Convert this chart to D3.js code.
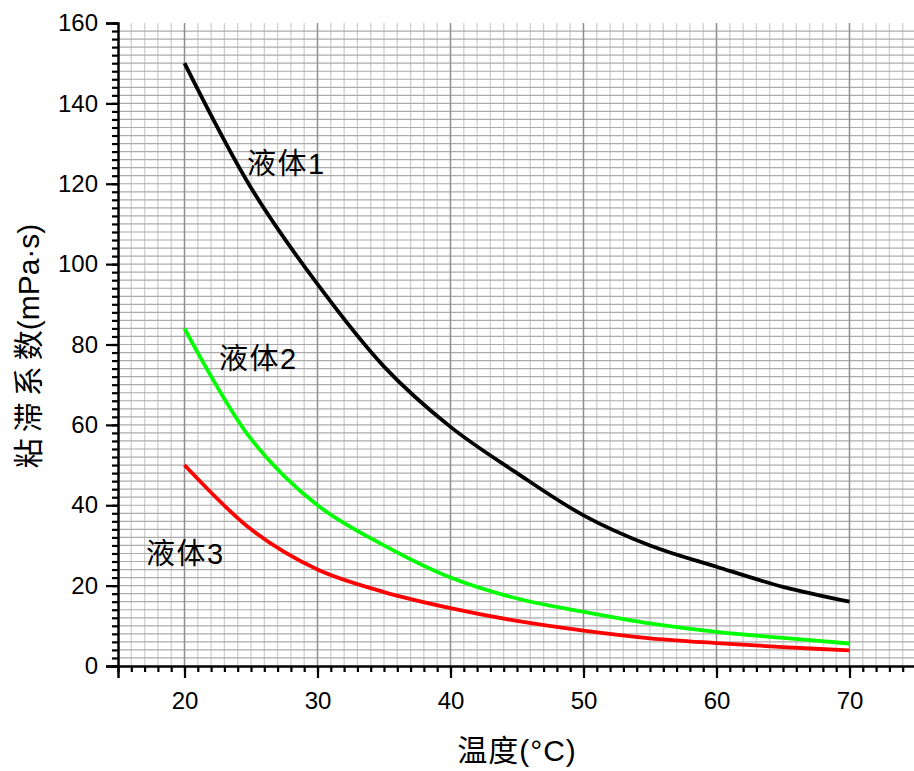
<!DOCTYPE html>
<html>
<head>
<meta charset="utf-8">
<script src="https://cdn.jsdelivr.net/npm/d3@7"></script>
<style>
  body { margin: 0; background: #fff; }
  svg { display: block; }
  text { font-family: "Liberation Sans", Arial, "Noto Sans CJK SC", sans-serif; }
</style>
</head>
<body>
<div class="chart"></div>
<script>
const temps = [20, 25, 30, 35, 40, 45, 50, 55, 60, 65, 70]
const liquid1 = [150, 119, 95, 74.5, 59.5, 48, 37.5, 30, 24.7, 19.7, 16]
const liquid2 = [84, 56.5, 40, 30, 22, 16.8, 13.5, 10.6, 8.5, 7, 5.6]
const liquid3 = [50, 34, 24, 18.4, 14.4, 11.2, 8.8, 6.9, 5.7, 4.7, 3.9]
const seriesNames = ['液体1', '液体2', '液体3']
const seriesColors = ['#000000', '#00ff00', '#ff0000']
const xTicks = [20, 30, 40, 50, 60, 70]
const yTicks = [0, 20, 40, 60, 80, 100, 120, 140, 160]

const w = 914, h = 771

const x = d3.scaleLinear().domain([15, 75]).range([118, 916])
const y = d3.scaleLinear().domain([0, 160]).range([666, 23])

const svg = d3.select('.chart')
              .append('svg')
              .attr('width', w)
              .attr('height', h)

// grid
const grid = svg.append('g')
grid.selectAll('.vminor')
    .data(d3.range(16, 76, 1).filter(d => d % 10 !== 0))
    .enter().append('line')
    .attr('x1', d => x(d)).attr('x2', d => x(d))
    .attr('y1', y(160)).attr('y2', y(0))
    .attr('stroke', '#cfcfcf').attr('stroke-width', 1.3)
grid.selectAll('.hline')
    .data(d3.range(2, 160, 2))
    .enter().append('line')
    .attr('x1', x(15)).attr('x2', w)
    .attr('y1', d => y(d)).attr('y2', d => y(d))
    .attr('stroke', '#ababab').attr('stroke-width', 1.2)
grid.selectAll('.vmajor')
    .data(xTicks)
    .enter().append('line')
    .attr('x1', d => x(d)).attr('x2', d => x(d))
    .attr('y1', y(160)).attr('y2', y(0))
    .attr('stroke', '#8f8f8f').attr('stroke-width', 1.5)

// curves
const line = d3.line()
               .x((d, i) => x(temps[i]))
               .y(d => y(d))
               .curve(d3.curveCatmullRom.alpha(0.5))

;[liquid1, liquid2, liquid3].forEach((vals, i) => {
  svg.append('path')
     .datum(vals)
     .attr('d', line)
     .attr('fill', 'none')
     .attr('stroke', seriesColors[i])
     .attr('stroke-width', 3.8)
})

// axes
const xMinor = svg.append('g')
                  .attr('transform', `translate(0,${y(0)})`)
                  .call(d3.axisBottom(x).tickValues(d3.range(15, 76, 1)).tickSize(6).tickFormat(''))
const xAxis = svg.append('g')
                 .attr('transform', `translate(0,${y(0)})`)
                 .call(d3.axisBottom(x).tickValues(xTicks).tickSize(12).tickPadding(14))
const yMinor = svg.append('g')
                  .attr('transform', `translate(${x(15)},0)`)
                  .call(d3.axisLeft(y).tickValues(d3.range(0, 161, 2)).tickSize(6).tickFormat(''))
const yAxis = svg.append('g')
                 .attr('transform', `translate(${x(15)},0)`)
                 .call(d3.axisLeft(y).tickValues(yTicks).tickSize(12).tickPadding(8))

;[xMinor, xAxis, yMinor, yAxis].forEach(g => {
  g.selectAll('path').attr('stroke', '#000').attr('stroke-width', 2.5)
  g.selectAll('line').attr('stroke', '#000').attr('stroke-width', 2.2)
  g.selectAll('text').attr('font-size', '24px').attr('fill', '#000')
   .style('font-family', '"Liberation Sans", Arial, sans-serif')
})
xMinor.select('path').remove()
yMinor.select('path').remove()

// series labels
const labelPos = [[24.7, 122.5], [22.6, 74], [17.1, 25.3]]
seriesNames.forEach((name, i) => {
  svg.append('text')
     .attr('x', x(labelPos[i][0]))
     .attr('y', y(labelPos[i][1]))
     .attr('font-size', '29px')
     .attr('letter-spacing', '1.5px')
     .attr('fill', '#000')
     .text(name)
})

// axis titles
svg.append('text')
   .attr('x', 517)
   .attr('y', 761)
   .attr('text-anchor', 'middle')
   .attr('font-size', '30px')
   .attr('letter-spacing', '1px')
   .text('温度(°C)')

const yTitle = svg.append('text')
   .attr('transform', 'translate(39,346) rotate(-90)')
   .attr('text-anchor', 'middle')
   .attr('font-size', '30px')
yTitle.append('tspan').attr('letter-spacing', '6px').text('粘滞系')
yTitle.append('tspan').text('数(mPa·s)')
</script>
</body>
</html>
